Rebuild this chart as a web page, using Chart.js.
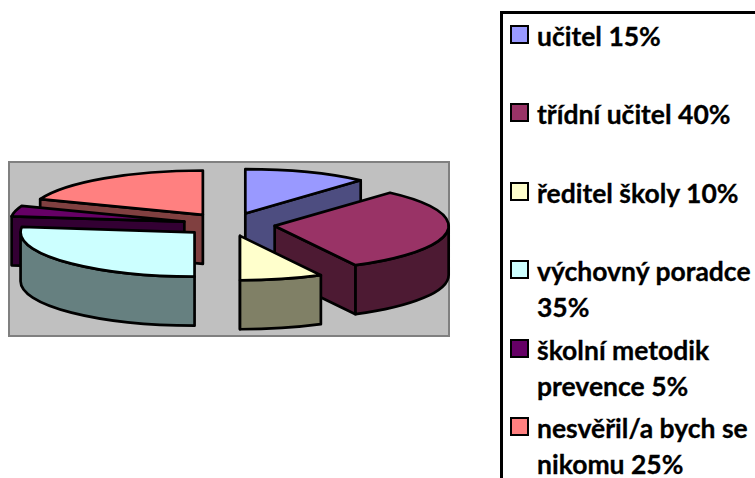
<!DOCTYPE html>
<html lang="cs">
<head>
<meta charset="utf-8">
<title>Graf</title>
<script src="https://cdn.jsdelivr.net/npm/chart.js@4"></script>
<style>
    html, body { margin: 0; padding: 0; background: #fff; overflow: hidden; width: 755px; height: 478px; }
    #pieChart { position: absolute; left: 0; top: 0; }
    #legend {
        position: absolute; left: 500px; top: 11px; width: 300px; height: 500px;
        box-sizing: border-box; border: 3px solid #000; background: #fff;
        margin: 0; padding: 0; list-style: none;
        font: bold 26.5px/36px Lato, sans-serif; color: #000;
        -webkit-text-stroke: 0.3px #000;
    }
    #legend li { display: flex; height: 78.4px; padding: 4px 0 0 7px; box-sizing: border-box; width: 255px; }
    #legend i { flex: none; width: 15px; height: 15px; border: 2px solid #000; margin: 7px 8px 0 0; }
</style>
</head>
<body>
<canvas id="pieChart" width="755" height="478"></canvas>
<ul id="legend"></ul>
<script>
const categories = ['učitel', 'třídní učitel', 'ředitel školy', 'výchovný poradce', 'školní metodik prevence', 'nesvěřil/a bych se nikomu'];
const seriesValues = [15, 40, 10, 35, 5, 25];
const sliceColors = ['#9999FF', '#993366', '#FFFFCC', '#CCFFFF', '#660066', '#FF8080'];

// look of the old Excel 3D exploded pie
const TILT = 0.255;      // ellipse height / width
const DEPTH = 49;        // height of the side walls
const EXPLODE = 46;      // how far each slice moves out
const LINE = 2.7;

function shade(hex) {
    const n = parseInt(hex.slice(1), 16);
    const half = v => Math.round(v / 2);
    return `rgb(${half(n >> 16)}, ${half((n >> 8) & 255)}, ${half(n & 255)})`;
}

const pie3d = {
    id: 'pie3d',
    beforeDatasetsDraw(chart) {
        const ctx = chart.ctx;
        const area = chart.chartArea;

        // plot area
        ctx.save();
        ctx.fillStyle = '#C0C0C0';
        ctx.strokeStyle = '#808080';
        ctx.lineWidth = 2;
        ctx.fillRect(area.left, area.top, area.width, area.height);
        ctx.strokeRect(area.left, area.top, area.width, area.height);
        ctx.restore();

        // back slices first
        const arcs = chart.getDatasetMeta(0).data.slice().sort((a, b) => {
            const mid = el => (el.startAngle + el.endAngle) / 2;
            return Math.sin(mid(a)) - Math.sin(mid(b));
        });
        arcs.forEach(arc => drawSlice(ctx, arc));
        return false; // the library's flat pie is replaced by the above
    }
};

function drawSlice(ctx, arc) {
    const a0 = arc.startAngle, a1 = arc.endAngle, mid = (a0 + a1) / 2;
    const R = arc.outerRadius, rY = R * TILT;
    const cx = arc.x + EXPLODE * Math.cos(mid);
    const cy = arc.y - DEPTH / 2 + EXPLODE * TILT * Math.sin(mid);
    const top = arc.options.backgroundColor;
    const rim = a => [cx + R * Math.cos(a), cy + rY * Math.sin(a)];

    ctx.save();
    ctx.lineWidth = LINE;
    ctx.strokeStyle = '#000';
    ctx.lineJoin = 'round';
    ctx.fillStyle = shade(top);

    const wall = a => {
        const [x, y] = rim(a);
        ctx.beginPath();
        ctx.moveTo(cx, cy);
        ctx.lineTo(x, y);
        ctx.lineTo(x, y + DEPTH);
        ctx.lineTo(cx, cy + DEPTH);
        ctx.closePath();
        ctx.fill();
        ctx.stroke();
    };
    if (Math.cos(a0) < 0) wall(a0);
    if (Math.cos(a1) > 0) wall(a1);

    // outer wall, only the part turned to the viewer
    const from = Math.max(a0, 0), to = Math.min(a1, Math.PI);
    if (to > from) {
        const [x0, y0] = rim(from);
        ctx.beginPath();
        ctx.ellipse(cx, cy, R, rY, 0, from, to);
        ctx.ellipse(cx, cy + DEPTH, R, rY, 0, to, from, true);
        ctx.lineTo(x0, y0);
        ctx.closePath();
        ctx.fill();
        ctx.stroke();
    }

    // top face: the library's arc, squashed; outline added after so it keeps its width
    ctx.save();
    ctx.translate(cx, cy);
    ctx.scale(1, TILT);
    ctx.translate(-arc.x, -arc.y);
    arc.draw(ctx);
    ctx.restore();

    ctx.beginPath();
    ctx.moveTo(cx, cy);
    ctx.ellipse(cx, cy, R, rY, 0, a0, a1);
    ctx.closePath();
    ctx.stroke();
    ctx.restore();
}

new Chart(document.getElementById('pieChart').getContext('2d'), {
    type: 'pie',
    data: {
        labels: categories,
        datasets: [{
            data: seriesValues,
            backgroundColor: sliceColors,
            borderWidth: 0,
            radius: 174
        }]
    },
    options: {
        responsive: false,
        animation: false,
        events: [],
        layout: { padding: { left: 9, top: 162, right: 306, bottom: 142 } },
        plugins: { legend: { display: false }, tooltip: { enabled: false } }
    },
    plugins: [pie3d]
});

const legend = document.getElementById('legend');
categories.forEach((name, i) => {
    const li = document.createElement('li');
    const box = document.createElement('i');
    box.style.background = sliceColors[i];
    const text = document.createElement('span');
    text.textContent = `${name} ${seriesValues[i]}%`;
    li.append(box, text);
    legend.append(li);
});
</script>
</body>
</html>
